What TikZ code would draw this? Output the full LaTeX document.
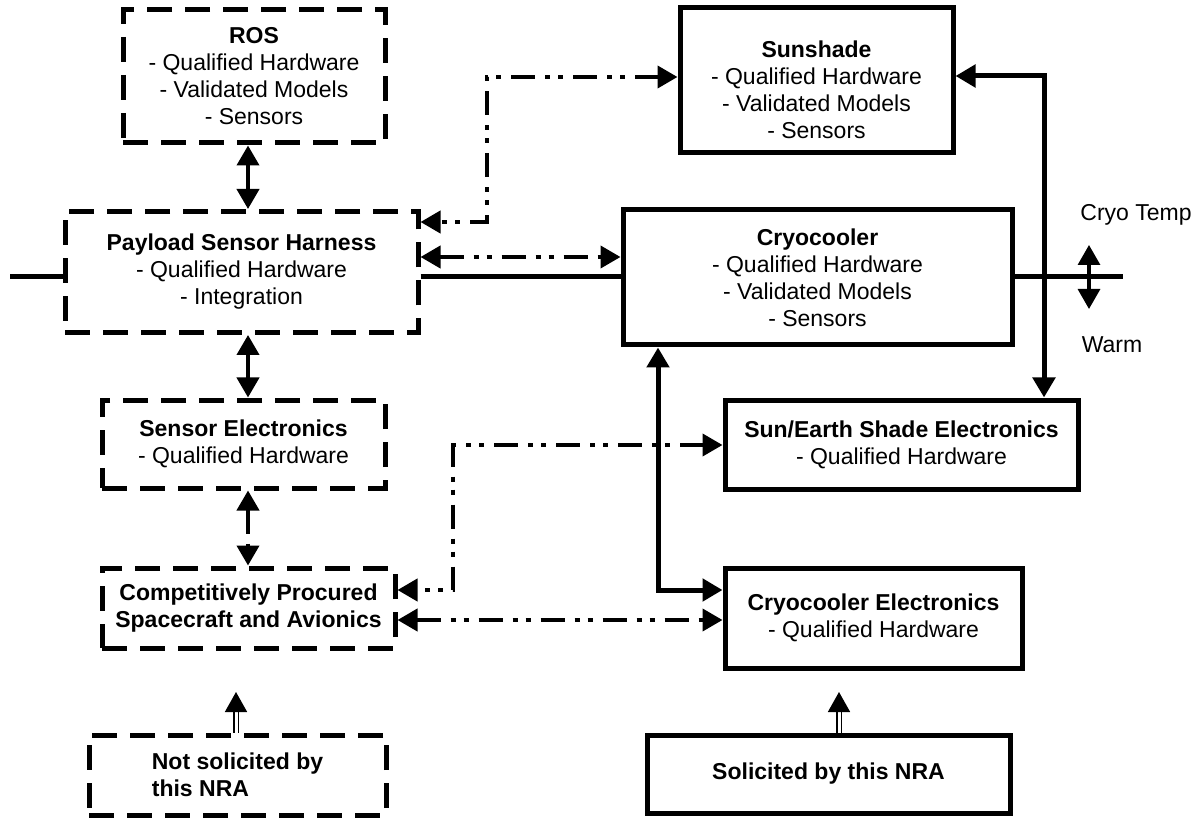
\documentclass[tikz,border=0pt]{standalone}
\usepackage{fontspec}
\setmainfont{Liberation Sans}
\usetikzlibrary{arrows.meta}
\tikzset{
	tip/.tip={Triangle[length=10pt,width=11pt]},
	solidbox/.style={draw, line width=2.5pt, inner sep=0pt, align=center},
	dashbox/.style={solidbox, dash pattern=on 12.5pt off 6.5pt},
	thinlink/.style={line width=2pt, tip-tip},
	buslink/.style={line width=2.5pt},
	powlink/.style={line width=2.5pt, tip-tip},
	dotlink/.style={thinlink, dash pattern=on 12pt off 5pt on 2.5pt off 4pt on 2.5pt off 5pt},
	sollink/.style={double, line width=0.8pt, double distance=1.5pt, -tip}
}
\begin{document}
\begin{tikzpicture}[x=0.5pt, y=-0.5pt, font=\fontsize{11.5}{13.5}\selectfont]
	\useasboundingbox (0,0) rectangle (1200,818);

	\node[dashbox, minimum width=131pt, minimum height=66.5pt] (ros) at (254,76.5) {\textbf{ROS}\\- Qualified Hardware\\- Validated Models\\- Sensors};
	\node[dashbox, minimum width=176.5pt, minimum height=60.5pt] (pay) at (241.5,272) {\textbf{Payload Sensor Harness}\\- Qualified Hardware\\- Integration};
	\node[dashbox, minimum width=141.5pt, minimum height=44pt] (sens) at (243.5,444) {\textbf{Sensor Electronics}\\- Qualified Hardware};
	\node[dashbox, minimum width=146.5pt, minimum height=40pt] (craft) at (248.5,608) {\textbf{Competitively Procured}\\\textbf{Spacecraft and Avionics}};
	\node[dashbox, minimum width=148.5pt, minimum height=40pt, align=left] (notsol) at (237.5,775) {\textbf{Not solicited by}\\\textbf{this NRA}};

	\node[solidbox, minimum width=136.5pt, minimum height=72.5pt] (shade) at (816.5,80.5) {\rule{0pt}{18pt}\textbf{Sunshade}\\- Qualified Hardware\\- Validated Models\\- Sensors};
	\node[solidbox, minimum width=194.5pt, minimum height=67.5pt] (cryo) at (817.5,277.5) {\textbf{Cryocooler}\\- Qualified Hardware\\- Validated Models\\- Sensors};
	\node[solidbox, minimum width=176.5pt, minimum height=44.5pt] (shadeel) at (901.5,444.5) {\textbf{Sun/Earth Shade Electronics}\\- Qualified Hardware};
	\node[solidbox, minimum width=148.5pt, minimum height=50pt] (cryoel) at (873.5,618) {\textbf{Cryocooler Electronics}\\- Qualified Hardware};
	\node[solidbox, minimum width=181.5pt, minimum height=39pt] (sol) at (828.5,774) {\textbf{Solicited by this NRA}};

	\node (cold) at (1136,215) {Cryo Temp};
	\node (warm) at (1112,345) {Warm};

	\coordinate (busin) at (10,277);
	\coordinate (busout) at (1123,277);
	\coordinate (tempup) at (1089,245);
	\coordinate (tempdown) at (1089,309);
	\coordinate (notsoltip) at (236,692);
	\coordinate (soltip) at (839,692);

	\draw[thinlink] (ros.south -| 248,0) -- (pay.north -| 248,0);
	\draw[thinlink] (pay.south -| 248,0) -- (sens.north -| 248,0);
	\draw[dotlink] (sens.south -| 248,0) -- (craft.north -| 248,0);
	\draw[sollink] (notsol.north -| notsoltip) -- (notsoltip);
	\draw[sollink] (sol.north -| soltip) -- (soltip);

	\draw[buslink] (busin) -- (pay.west |- busin);
	\draw[buslink] (pay.east |- busin) -- (cryo.west |- busin);
	\draw[buslink] (cryo.east |- busout) -- (busout);
	\draw[thinlink, line width=1.6pt] (tempup) -- (tempdown);

	\draw[dotlink] (shade.west |- 0,77) -| (487,222) -- (pay.east |- 0,222);
	\draw[dotlink] (pay.east |- 0,257) -- (cryo.west |- 0,257);
	\draw[powlink] (shade.east |- 0,76) -| (shadeel.north -| 1044,0);
	\draw[powlink] (cryo.south -| 658,0) |- (cryoel.west |- 0,590);
	\draw[dotlink] (shadeel.west |- 0,445) -| (453,590) -- (craft.east |- 0,590);
	\draw[dotlink] (craft.east |- 0,620) -- (cryoel.west |- 0,620);
\end{tikzpicture}
\end{document}
